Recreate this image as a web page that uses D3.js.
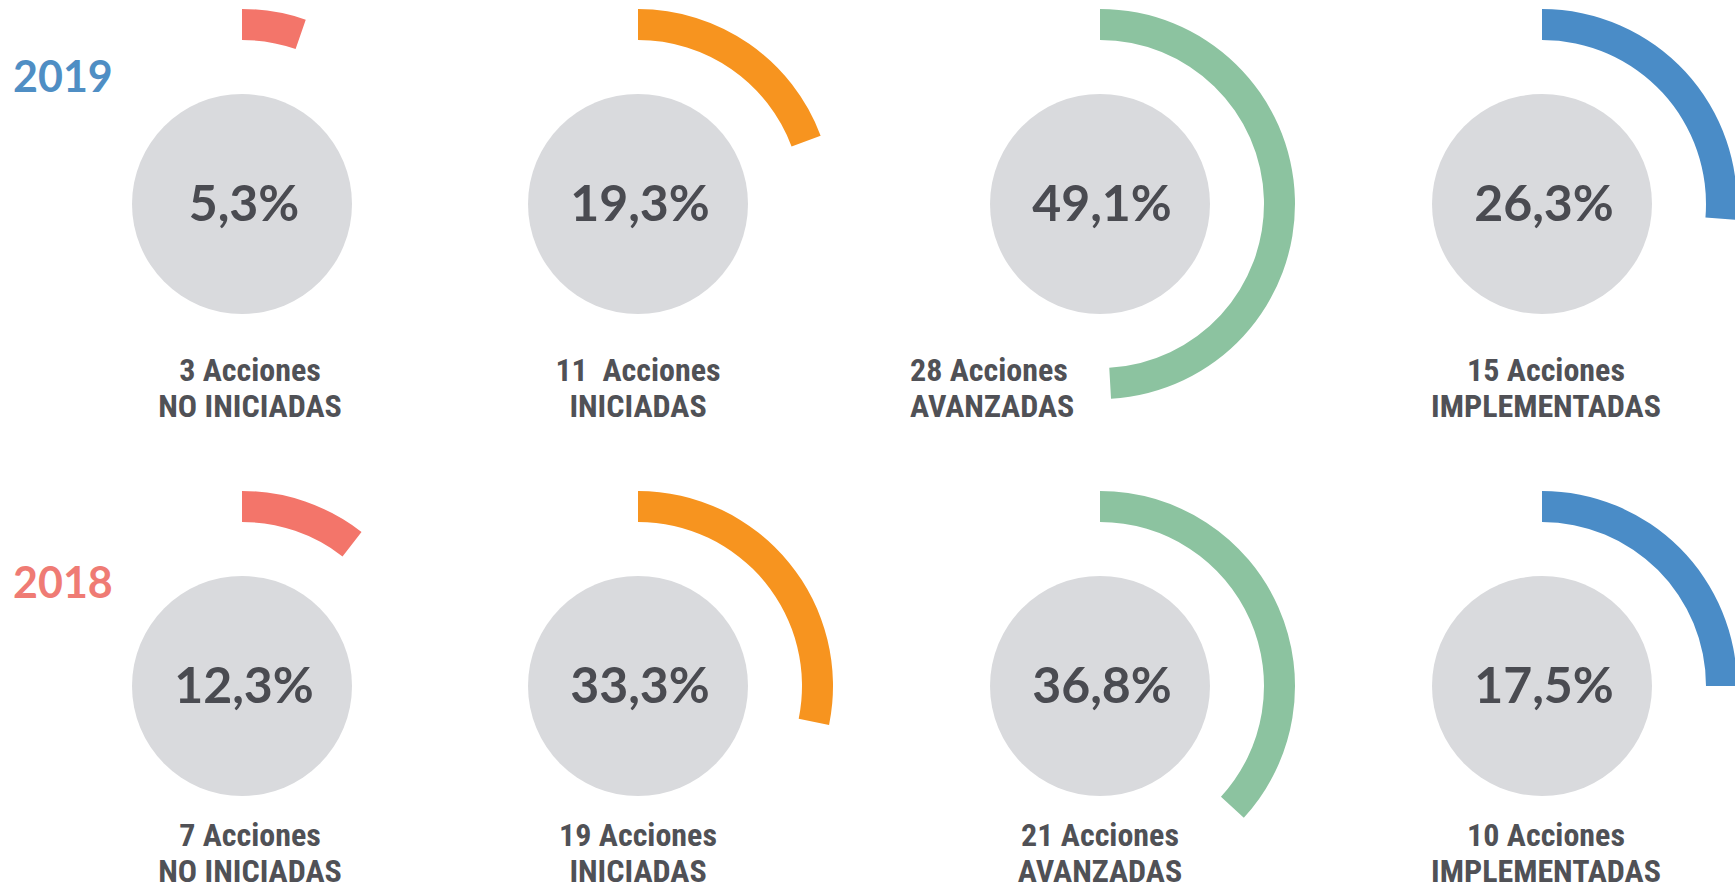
<!DOCTYPE html>
<html>
<head>
<meta charset="utf-8">
<script src="https://cdn.jsdelivr.net/npm/d3@7"></script>
<style>
  body { margin: 0; background: #fff; }
  svg { display: block; }
  .pct { font-family: Lato, "Open Sans", sans-serif; font-weight: bold; fill: #4a4b51; }
  .lbl { font-family: "Liberation Sans Narrow", "Arial Narrow", "Roboto Condensed", sans-serif; font-weight: bold; fill: #505156; }
  .year { font-family: Lato, "Open Sans", sans-serif; font-weight: bold; }
</style>
</head>
<body>
<svg width="1735" height="892"></svg>
<script>
// data
const categories = ["NO INICIADAS", "INICIADAS", "AVANZADAS", "IMPLEMENTADAS"];
const years = ["2019", "2018"];
const pct2019 = [5.3, 19.3, 49.1, 26.3];
const pct2018 = [12.3, 33.3, 36.8, 17.5];
const count2019 = [3, 11, 28, 15];
const count2018 = [7, 19, 21, 10];
// arc sweep as drawn in the original (2018 arcs don't follow the % exactly)
const sweep2019 = [5.3, 19.3, 49.1, 26.3];
const sweep2018 = [10.5, 28.2, 36.8, 25.0];
const catColors = ["#f3756a", "#f7941f", "#8cc3a0", "#4a8cc7"];
const yearColors = ["#4f8ec4", "#ef7b74"];

const svg = d3.select("svg");

const xPos = c => [242, 638, 1100, 1542][categories.indexOf(c)];
const angle = d3.scaleLinear().domain([0, 100]).range([0, 2 * Math.PI]);

const arc = d3.arc().innerRadius(164).outerRadius(195).startAngle(0);

const rows = [
  {year: years[0], pct: pct2019, count: count2019, sweep: sweep2019, cy: 204, l1: 381, l2: 417, yl: 92},
  {year: years[1], pct: pct2018, count: count2018, sweep: sweep2018, cy: 686, l1: 846, l2: 882, yl: 598}
];

rows.forEach(function(row, ri) {
  const g = svg.append("g");

  g.append("text")
    .attr("class", "year")
    .attr("x", 13)
    .attr("y", row.yl)
    .attr("font-size", 43)
    .attr("fill", yearColors[ri])
    .text(row.year);

  const cells = g.selectAll("g.cell")
    .data(categories.map((c, i) => ({cat: c, i: i, pct: row.pct[i], count: row.count[i], sweep: row.sweep[i]})))
    .join("g")
    .attr("class", "cell")
    .attr("transform", d => `translate(${xPos(d.cat)},${row.cy})`);

  cells.append("path")
    .attr("d", d => arc({endAngle: angle(d.sweep)}))
    .attr("fill", d => catColors[d.i]);

  cells.append("circle")
    .attr("r", 110)
    .attr("fill", "#d9dadd");

  cells.append("text")
    .attr("class", "pct")
    .attr("text-anchor", "middle")
    .attr("x", 2)
    .attr("y", 17)
    .attr("font-size", 50)
    .text(d => d3.format(".1f")(d.pct).replace(".", ",") + "%");

  // labels: the 2019 AVANZADAS one sits left-aligned beside the arc
  const leftLbl = d => ri === 0 && d.i === 2;
  const lx = d => leftLbl(d) ? -190 : [8, 0, 0, 4][d.i];

  cells.append("text")
    .attr("class", "lbl")
    .attr("text-anchor", d => leftLbl(d) ? "start" : "middle")
    .attr("x", lx)
    .attr("y", row.l1 - row.cy)
    .attr("font-size", 32)
    .attr("xml:space", "preserve")
    .text(d => d.count + (ri === 0 && d.i === 1 ? "  " : " ") + "Acciones");

  cells.append("text")
    .attr("class", "lbl")
    .attr("text-anchor", d => leftLbl(d) ? "start" : "middle")
    .attr("x", lx)
    .attr("y", row.l2 - row.cy)
    .attr("font-size", 32)
    .text(d => d.cat);
});
</script>
</body>
</html>
